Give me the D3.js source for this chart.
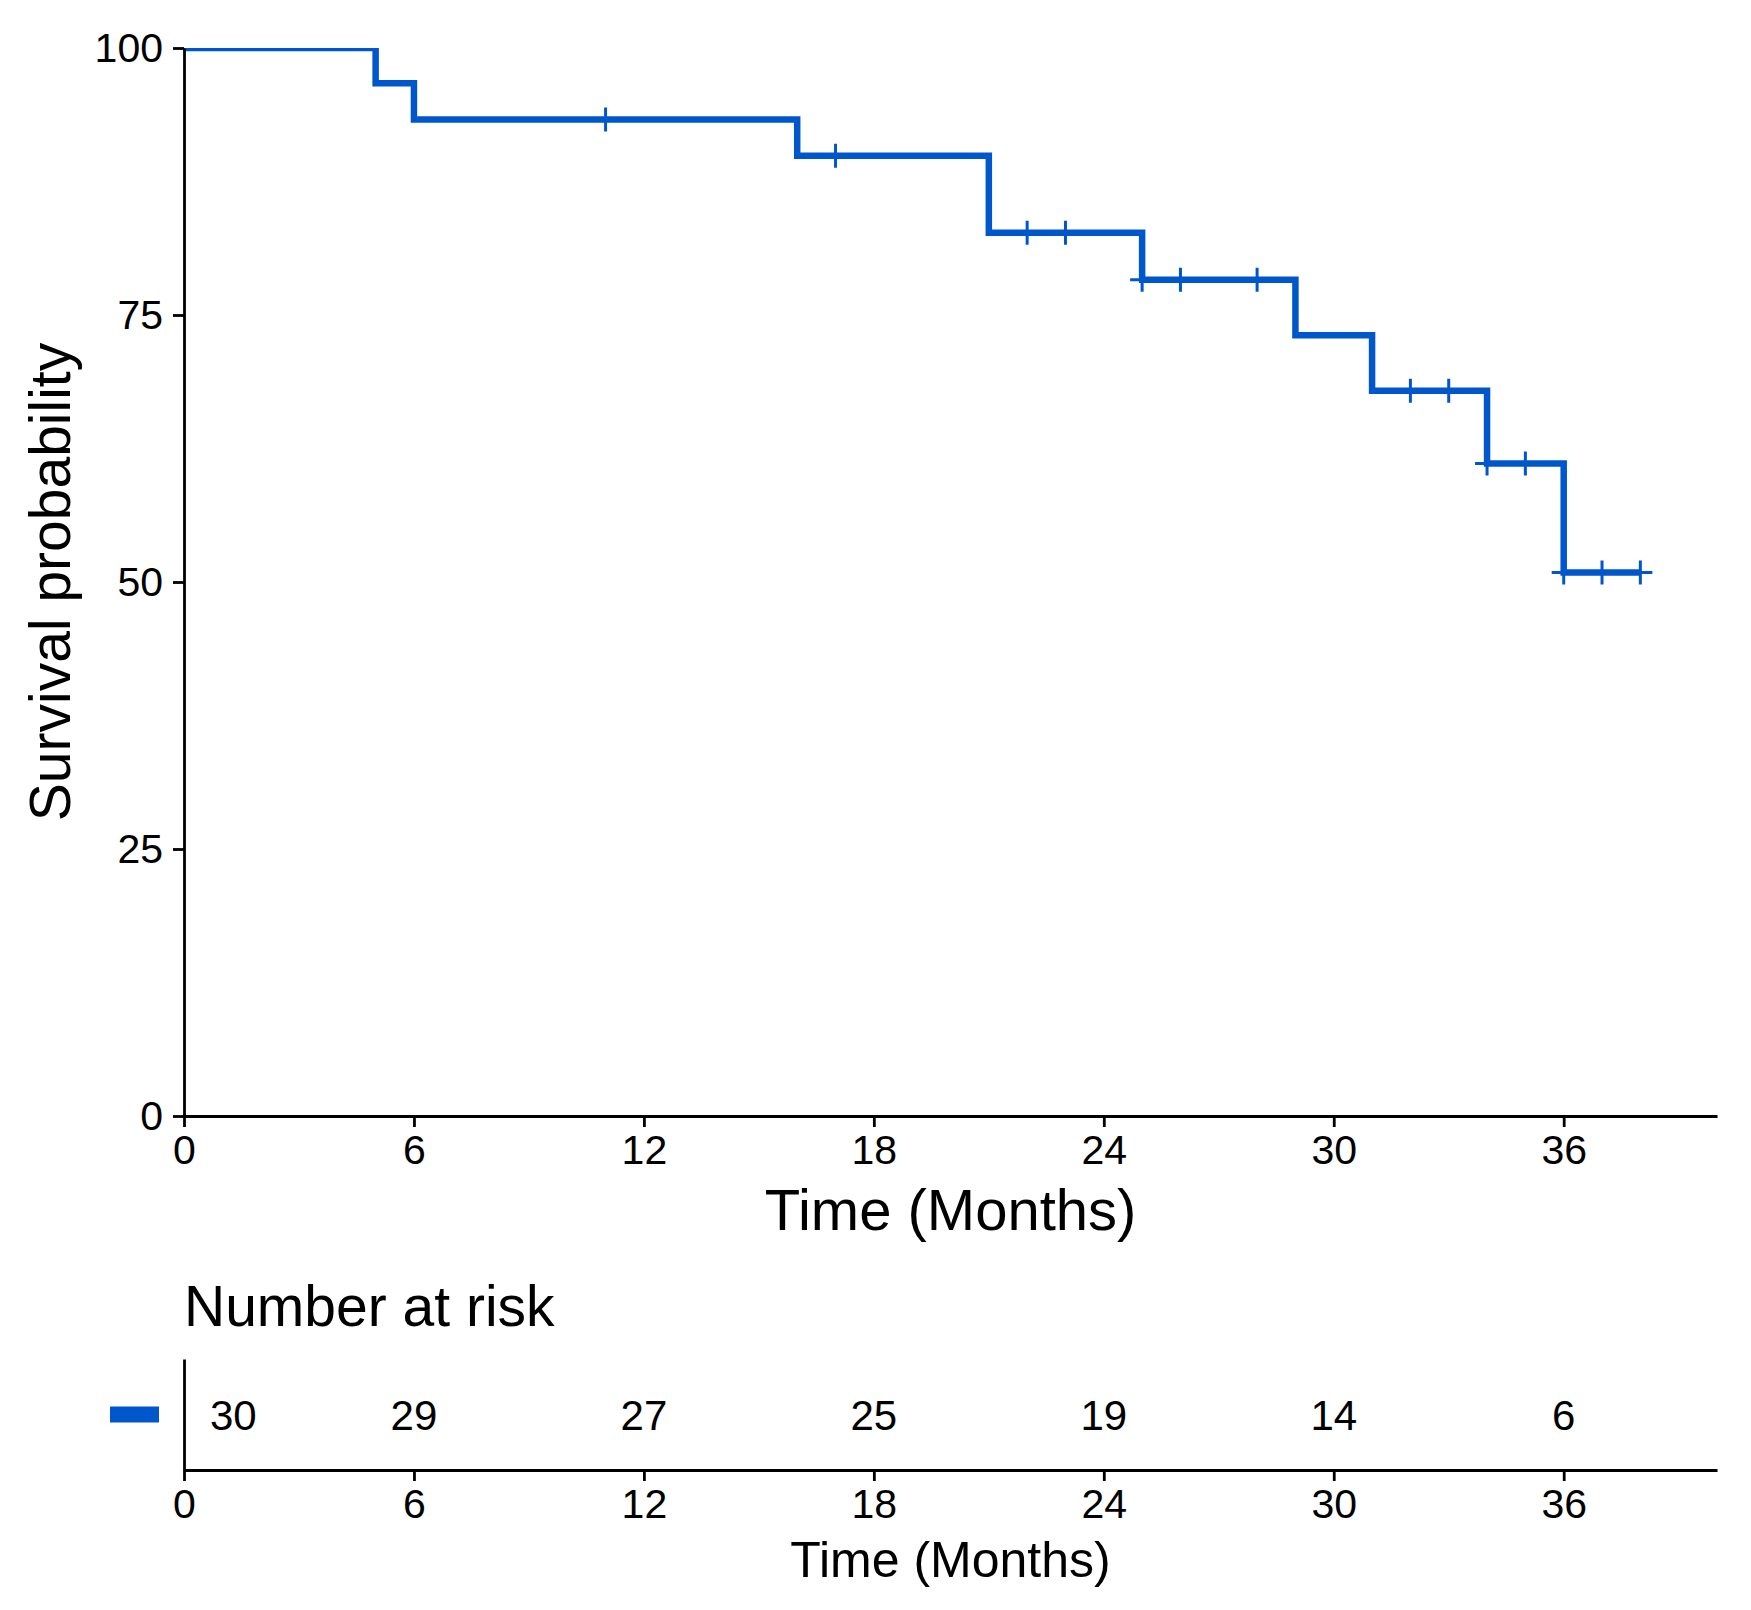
<!DOCTYPE html>
<html>
<head>
<meta charset="utf-8">
<script src="https://cdn.jsdelivr.net/npm/d3@7"></script>
<style>
  body { margin: 0; background: white; }
  text { font-family: "Liberation Sans", Arial, sans-serif; fill: #000; }
</style>
</head>
<body>
<svg id="chart" width="1751" height="1610"></svg>
<script>
// Kaplan-Meier estimate
var stepTimes = [0, 5, 6, 16, 21, 25, 29, 31, 34, 36];
var stepSurv = [100, 96.7, 93.3, 89.9, 82.7, 78.3, 73.1, 67.9, 61.1, 50.9];
var endTime = 38;
// censored observations
var censorTimes = [11, 17, 22, 23, 25, 26, 28, 32, 33, 34, 35, 36, 37, 38];
// risk table
var riskTimes = [0, 6, 12, 18, 24, 30, 36];
var riskCounts = [30, 29, 27, 25, 19, 14, 6];
var strata = ["All"];
// axis ticks
var xTicks = [0, 6, 12, 18, 24, 30, 36];
var yTicks = [0, 25, 50, 75, 100];

var blue = "rgb(0, 87, 204)";
var svg = d3.select('#chart');

svg.append("rect").attr("width", 1751).attr("height", 1610).style("fill", "white");

// scales for the survival panel
var x = d3.scaleLinear().domain([0, 40]).range([184, 1717]);
var y = d3.scaleLinear().domain([0, 100]).range([1116, 48]);

// survival value at time t (step function)
function survAt(t) {
    var s = stepSurv[0];
    for (var i = 0; i < stepTimes.length; i++) {
        if (stepTimes[i] <= t) s = stepSurv[i];
    }
    return s;
}

// clip to panel so the line at 100 is cut like in ggplot
svg.append("clipPath").attr("id", "panel")
    .append("rect")
    .attr("x", x(0)).attr("y", y(100))
    .attr("width", x(40) - x(0)).attr("height", y(0) - y(100));

var pts = stepTimes.map(function(t, i) { return [t, stepSurv[i]]; });
pts.push([endTime, stepSurv[stepSurv.length - 1]]);

var line = d3.line()
    .x(function(d) { return x(d[0]); })
    .y(function(d) { return y(d[1]); })
    .curve(d3.curveStepAfter);

var plot = svg.append("g").attr("clip-path", "url(#panel)");

plot.append("path")
    .datum(pts)
    .attr("d", line)
    .style("fill", "none")
    .style("stroke", blue)
    .style("stroke-width", 6.5)
    .style("stroke-linejoin", "miter");

// censor marks as '+'
plot.selectAll(".censor")
    .data(censorTimes)
    .enter()
    .append("path")
    .attr("class", "censor")
    .attr("d", "M-12,0H12M0,-12V12")
    .attr("transform", function(d) { return "translate(" + x(d) + "," + y(survAt(d)) + ")"; })
    .style("stroke", blue)
    .style("stroke-width", 3)
    .style("fill", "none");

// axes
function styleAxis(g) {
    g.selectAll(".domain").style("stroke", "#000").style("stroke-width", 2.8);
    g.selectAll(".tick line").style("stroke", "#000").style("stroke-width", 2.8);
    g.selectAll(".tick text").style("font-size", "41px").style("fill", "#000");
}

svg.append("g")
    .attr("transform", "translate(0," + y(0) + ")")
    .call(d3.axisBottom(x).tickValues(xTicks).tickSize(11).tickSizeOuter(0).tickPadding(8))
    .call(styleAxis)
    .call(function(g) { g.selectAll(".tick text").attr("dy", "0.71em"); });

svg.append("g")
    .attr("transform", "translate(" + x(0) + ",0)")
    .call(d3.axisLeft(y).tickValues(yTicks).tickSize(11).tickSizeOuter(0).tickPadding(10))
    .call(styleAxis);

// axis titles
svg.append("text")
    .attr("x", (x(0) + x(40)) / 2)
    .attr("y", 1230)
    .attr("text-anchor", "middle")
    .style("font-size", "58px")
    .text("Time (Months)");

svg.append("text")
    .attr("transform", "translate(70," + (y(0) + y(100)) / 2 + ") rotate(-90)")
    .attr("text-anchor", "middle")
    .style("font-size", "57px")
    .text("Survival probability");

// ---- risk table ----
svg.append("text")
    .attr("x", x(0))
    .attr("y", 1326)
    .style("font-size", "57px")
    .text("Number at risk");

var rowY = d3.scaleBand().domain(strata).range([1359, 1470]);

svg.append("g")
    .attr("transform", "translate(0,1470)")
    .call(d3.axisBottom(x).tickValues(xTicks).tickSize(11).tickSizeOuter(0).tickPadding(8))
    .call(styleAxis)
    .call(function(g) { g.selectAll(".tick text").attr("dy", "0.71em"); });

svg.append("g")
    .attr("transform", "translate(" + x(0) + ",0)")
    .call(d3.axisLeft(rowY).tickSize(0).tickFormat(""))
    .call(styleAxis);

// strata colour key
svg.selectAll(".key")
    .data(strata)
    .enter()
    .append("rect")
    .attr("x", x(0) - 74)
    .attr("y", function(d) { return rowY(d) + rowY.bandwidth() / 2 - 8; })
    .attr("width", 49)
    .attr("height", 16)
    .style("fill", blue);

svg.selectAll(".risk")
    .data(riskTimes)
    .enter()
    .append("text")
    .attr("class", "risk")
    .attr("x", function(d) { return x(d); })
    .attr("dx", function(d, i) { return i === 0 ? 26 : 0; })
    .attr("y", rowY(strata[0]) + rowY.bandwidth() / 2)
    .attr("dy", "0.36em")
    .attr("text-anchor", function(d, i) { return i === 0 ? "start" : "middle"; })
    .style("font-size", "42px")
    .text(function(d, i) { return riskCounts[i]; });

svg.append("text")
    .attr("x", (x(0) + x(40)) / 2)
    .attr("y", 1577)
    .attr("text-anchor", "middle")
    .style("font-size", "50px")
    .text("Time (Months)");
</script>
</body>
</html>
